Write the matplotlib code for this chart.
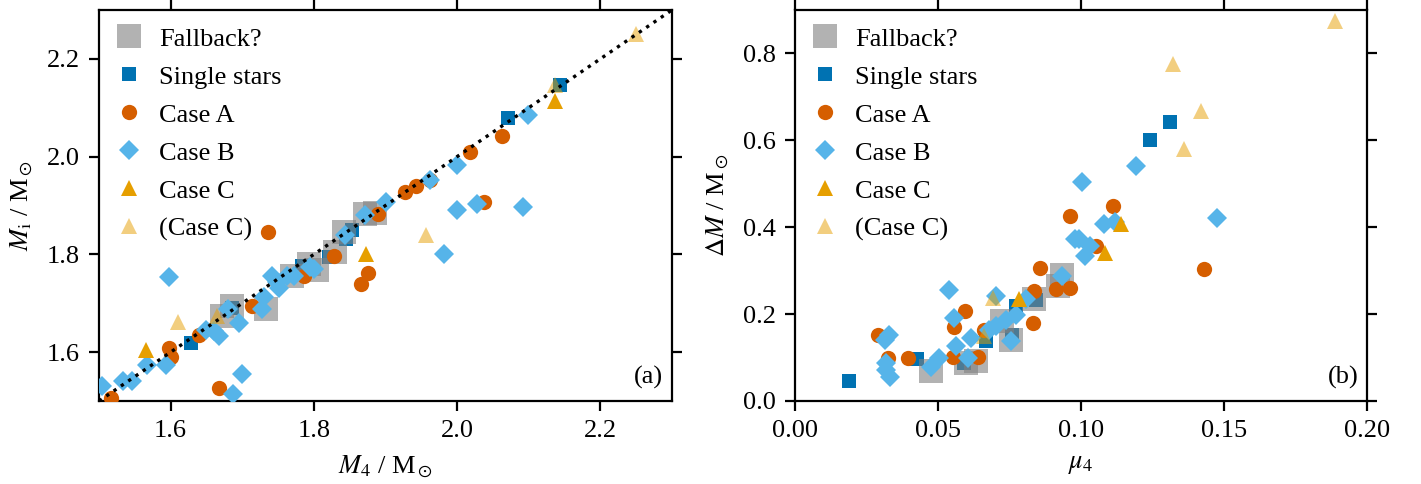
import numpy as np
import matplotlib
matplotlib.use("Agg")
import matplotlib.pyplot as plt

plt.rcParams['font.family'] = 'serif'
plt.rcParams['font.serif'] = ['Liberation Serif', 'DejaVu Serif']
plt.rcParams['mathtext.fontset'] = 'stix'
plt.rcParams['font.size'] = 9.5

# --- panel (a): M4 vs Mi ---
fallback_m4 = [1.671, 1.686, 1.733, 1.770, 1.793, 1.805, 1.830, 1.842, 1.872, 1.885]
fallback_mi = [1.674, 1.694, 1.688, 1.756, 1.780, 1.767, 1.805, 1.846, 1.883, 1.885]

single_m4 = [1.629, 1.686, 1.784, 1.821, 1.845, 1.853, 2.071, 2.143]
single_mi = [1.619, 1.690, 1.777, 1.794, 1.832, 1.849, 2.079, 2.147]

caseA_m4 = [1.516, 1.598, 1.601, 1.639, 1.667, 1.714, 1.736, 1.786, 1.828, 1.866,
            1.875, 1.890, 1.927, 1.942, 1.962, 2.018, 2.037, 2.062]
caseA_mi = [1.506, 1.609, 1.591, 1.636, 1.526, 1.694, 1.846, 1.756, 1.797, 1.739,
            1.762, 1.883, 1.927, 1.939, 1.952, 2.009, 1.908, 2.042]

caseB_m4 = [1.504, 1.534, 1.546, 1.567, 1.594, 1.598, 1.649, 1.660, 1.667, 1.687,
            1.700, 1.695, 1.680, 1.728, 1.730, 1.742, 1.749, 1.751, 1.763, 1.772,
            1.795, 1.800, 1.844, 1.872, 1.900, 1.962, 1.982, 2.000, 2.000, 2.028,
            2.092, 2.099]
caseB_mi = [1.530, 1.540, 1.541, 1.573, 1.573, 1.753, 1.646, 1.643, 1.633, 1.514,
            1.555, 1.660, 1.688, 1.688, 1.712, 1.756, 1.743, 1.732, 1.756, 1.756,
            1.775, 1.770, 1.840, 1.880, 1.907, 1.952, 1.801, 1.982, 1.890, 1.904,
            1.897, 2.086]

caseC_m4 = [1.566, 1.873, 2.137]
caseC_mi = [1.605, 1.800, 2.114]

caseCp_m4 = [1.610, 1.665, 1.957, 2.137, 2.250]
caseCp_mi = [1.662, 1.673, 1.839, 2.147, 2.250]

# --- panel (b): mu4 vs Delta M ---
fallback_mu = [0.0476, 0.0598, 0.0633, 0.0725, 0.0754, 0.0836, 0.0920, 0.0934]
fallback_dm = [0.068, 0.087, 0.091, 0.183, 0.141, 0.234, 0.264, 0.291]

single_mu = [0.0189, 0.0427, 0.0592, 0.0667, 0.0760, 0.0772, 0.0842, 0.1242, 0.1312]
single_dm = [0.045, 0.096, 0.087, 0.137, 0.153, 0.218, 0.233, 0.600, 0.643]

caseA_mu = [0.0290, 0.0325, 0.0395, 0.0551, 0.0555, 0.0595, 0.0638, 0.0662, 0.0832,
            0.0836, 0.0855, 0.0911, 0.0963, 0.0963, 0.1053, 0.1111, 0.1430]
caseA_dm = [0.153, 0.099, 0.099, 0.102, 0.170, 0.206, 0.102, 0.164, 0.180,
            0.253, 0.307, 0.257, 0.261, 0.426, 0.357, 0.448, 0.303]

caseB_mu = [0.0313, 0.0319, 0.0319, 0.0328, 0.0331, 0.0476, 0.0505, 0.0537, 0.0557,
            0.0563, 0.0604, 0.0615, 0.0679, 0.0702, 0.0702, 0.0737, 0.0754, 0.0772,
            0.0807, 0.0934, 0.0980, 0.0992, 0.1004, 0.1013, 0.1033, 0.1080, 0.1120,
            0.1192, 0.1477]
caseB_dm = [0.141, 0.072, 0.087, 0.153, 0.056, 0.079, 0.099, 0.255, 0.191,
            0.126, 0.099, 0.145, 0.164, 0.241, 0.172, 0.187, 0.137, 0.199,
            0.234, 0.287, 0.372, 0.372, 0.503, 0.334, 0.357, 0.407, 0.411,
            0.542, 0.422]

caseC_mu = [0.0783, 0.1083, 0.1140]
caseC_dm = [0.234, 0.341, 0.407]

caseCp_mu = [0.0660, 0.0693, 0.1320, 0.1360, 0.1420, 0.1887]
caseCp_dm = [0.149, 0.237, 0.775, 0.580, 0.667, 0.874]

C_SINGLE = '#0072B2'
C_A = '#D55E00'
C_B = '#56B4E9'
C_C = '#E69F00'


def draw_panel(ax, fb, single, a, b, c, cp):
    ax.plot(*fb, 's', color='#808080', alpha=0.6, ms=8.5, mew=0, label='Fallback?', zorder=2.5)
    ax.plot(*single, 's', color=C_SINGLE, ms=5, mew=0, label='Single stars', zorder=2)
    ax.plot(*a, 'o', color=C_A, ms=5.5, mew=0, label='Case A', zorder=3)
    ax.plot(*b, 'D', color=C_B, ms=5, mew=0, label='Case B', zorder=3)
    ax.plot(*c, '^', color=C_C, ms=5.5, mew=0, label='Case C', zorder=3)
    ax.plot(*cp, '^', color=C_C, alpha=0.5, ms=5.5, mew=0, label='(Case C)', zorder=3)
    ax.legend(loc='upper left', frameon=False, handlelength=1.0, handletextpad=0.63,
              borderpad=0.2, borderaxespad=0.45, labelspacing=0.55)
    ax.tick_params(direction='out', top=True, right=True)


fig = plt.figure(figsize=(7.105, 2.42), dpi=200)
ax1 = fig.add_axes([0.0697, 0.1715, 0.4032, 0.8079])
ax2 = fig.add_axes([0.5595, 0.1715, 0.4025, 0.8079])

draw_panel(ax1, (fallback_m4, fallback_mi), (single_m4, single_mi), (caseA_m4, caseA_mi),
           (caseB_m4, caseB_mi), (caseC_m4, caseC_mi), (caseCp_m4, caseCp_mi))
ax1.axline((0, 0), slope=1, color='k', ls=':', lw=1.2, zorder=4)
ax1.set_xlim(1.5, 2.3)
ax1.set_ylim(1.5, 2.3)
ax1.set_xticks([1.6, 1.8, 2.0, 2.2])
ax1.set_yticks([1.6, 1.8, 2.0, 2.2])
ax1.set_xlabel(r'$M_4$ / M$_\odot$')
ax1.set_ylabel(r'$M_\mathrm{i}$ / M$_\odot$')
ax1.text(0.985, 0.03, '(a)', transform=ax1.transAxes, ha='right', va='bottom')

draw_panel(ax2, (fallback_mu, fallback_dm), (single_mu, single_dm), (caseA_mu, caseA_dm),
           (caseB_mu, caseB_dm), (caseC_mu, caseC_dm), (caseCp_mu, caseCp_dm))
ax2.axhline(0, color='grey', ls='--', lw=0.6, zorder=1)
ax2.set_xlim(0, 0.2)
ax2.set_ylim(0, 0.9)
ax2.set_xticks([0.0, 0.05, 0.10, 0.15, 0.20])
ax2.set_yticks([0.0, 0.2, 0.4, 0.6, 0.8])
ax2.xaxis.set_major_formatter(matplotlib.ticker.FormatStrFormatter('%.2f'))
ax2.yaxis.set_major_formatter(matplotlib.ticker.FormatStrFormatter('%.1f'))
ax2.set_xlabel(r'$\mu_4$')
ax2.set_ylabel(r'$\Delta M$ / M$_\odot$')
ax2.text(0.985, 0.03, '(b)', transform=ax2.transAxes, ha='right', va='bottom')

fig.savefig('out.png', dpi=200)
